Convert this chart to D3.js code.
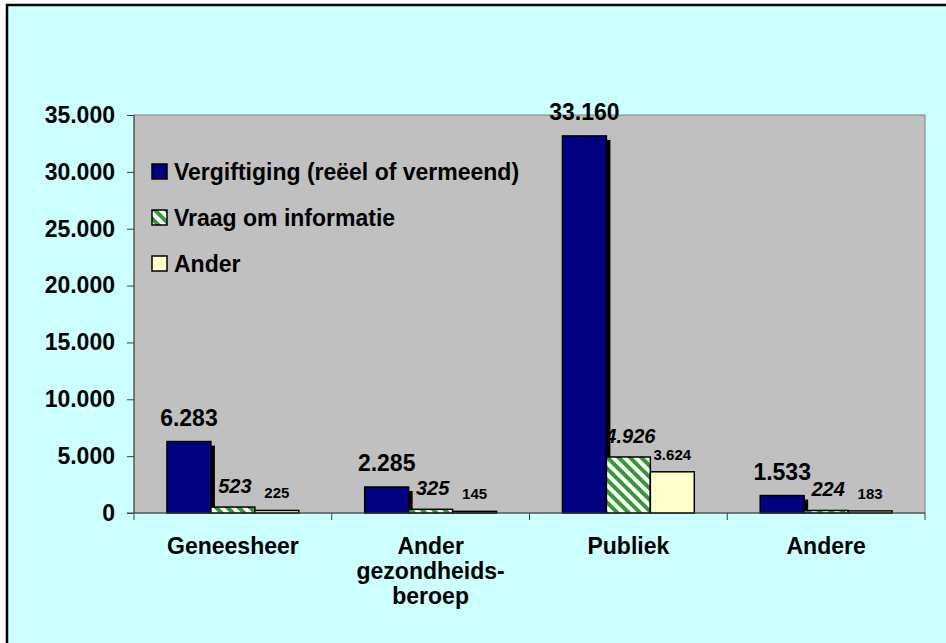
<!DOCTYPE html>
<html>
<head>
<meta charset="utf-8">
<script src="https://cdn.jsdelivr.net/npm/d3@7"></script>
<style>
  body { margin: 0; background: #fff; }
  text { font-family: "Liberation Sans", Arial, sans-serif; font-weight: bold; }
</style>
</head>
<body>
<svg id="chart"></svg>
<script>
// Data
let categories = ['Geneesheer', 'Ander gezondheids-beroep', 'Publiek', 'Andere'];
let categoryLines = [['Geneesheer'], ['Ander', 'gezondheids-', 'beroep'], ['Publiek'], ['Andere']];
let seriesNames = ['Vergiftiging (reëel of vermeend)', 'Vraag om informatie', 'Ander'];
let vergiftiging = [6283, 2285, 33160, 1533];
let vraag = [523, 325, 4926, 224];
let ander = [225, 145, 3624, 183];
let yTicks = [0, 5000, 10000, 15000, 20000, 25000, 30000, 35000];

let width = 946, height = 643;
let plotLeft = 134, plotRight = 925, plotTop = 115, plotBottom = 513;

let svg = d3.select('#chart').attr('width', width).attr('height', height);

// Dutch number format: 33.160
let nl = d3.formatLocale({ decimal: ',', thousands: '.', grouping: [3], currency: ['', ''] });
let fmt = nl.format(',d');

// hatch pattern for the second series
let defs = svg.append('defs');
let pat = defs.append('pattern')
    .attr('id', 'hatch')
    .attr('patternUnits', 'userSpaceOnUse')
    .attr('width', 8).attr('height', 8)
    .attr('patternTransform', 'rotate(-45)');
pat.append('rect').attr('width', 8).attr('height', 8).attr('fill', '#ffffff');
pat.append('rect').attr('width', 4).attr('height', 8).attr('fill', '#339933');

let fills = ['#000080', 'url(#hatch)', '#ffffcc'];

// background + outer frame
svg.append('rect')
    .attr('x', 7).attr('y', 5)
    .attr('width', 980).attr('height', 680)
    .attr('fill', '#ccffff')
    .attr('stroke', '#000').attr('stroke-width', 2.5);

// scales
let x0 = d3.scaleBand().domain(categories).range([plotLeft, plotRight]).paddingInner(0).paddingOuter(0);
let x1 = d3.scaleBand().domain([0, 1, 2]).range([0, x0.bandwidth()]).paddingOuter(0.75).paddingInner(0);
let y = d3.scaleLinear().domain([0, 35000]).range([plotBottom, plotTop]);

// plot area
svg.append('rect')
    .attr('x', plotLeft).attr('y', plotTop)
    .attr('width', plotRight - plotLeft).attr('height', plotBottom - plotTop)
    .attr('fill', '#c0c0c0')
    .attr('stroke', '#808080').attr('stroke-width', 1);

// build rows per category / series
let allSeries = [vergiftiging, vraag, ander];
let rows = [];
categories.forEach((c, i) => {
    allSeries.forEach((s, j) => rows.push({ cat: c, s: j, v: s[i] }));
});

let bars = svg.append('g');

// shadow only on the first series
bars.selectAll('rect.shadow')
    .data(rows.filter(d => d.s === 0))
    .enter().append('rect')
    .attr('class', 'shadow')
    .attr('x', d => x0(d.cat) + x1(d.s) + 4)
    .attr('y', d => y(d.v) + 4)
    .attr('width', x1.bandwidth())
    .attr('height', d => plotBottom - y(d.v) - 4)
    .attr('fill', '#000');

bars.selectAll('rect.bar')
    .data(rows)
    .enter().append('rect')
    .attr('class', 'bar')
    .attr('x', d => x0(d.cat) + x1(d.s))
    .attr('y', d => y(d.v))
    .attr('width', x1.bandwidth())
    .attr('height', d => plotBottom - y(d.v))
    .attr('fill', d => fills[d.s])
    .attr('stroke', '#000').attr('stroke-width', 1.5);

// value labels
let labelSize = [23, 20, 15];
let labelGap = [16, 14, 12];
svg.append('g').selectAll('text')
    .data(rows)
    .enter().append('text')
    .attr('x', d => x0(d.cat) + x1(d.s) + x1.bandwidth() / 2 + (d.s === 1 ? 2 : 0))
    .attr('y', d => y(d.v) - labelGap[d.s])
    .attr('text-anchor', 'middle')
    .style('font-size', d => labelSize[d.s] + 'px')
    .style('font-style', d => d.s === 1 ? 'italic' : 'normal')
    .attr('fill', '#000')
    .text(d => fmt(d.v));

// y axis
let yAxis = d3.axisLeft(y).tickValues(yTicks).tickSize(7).tickPadding(12).tickFormat(fmt);
let gy = svg.append('g').attr('transform', `translate(${plotLeft},0)`).call(yAxis);
gy.select('.domain').attr('stroke', '#404040').attr('d', `M0,${plotTop}V${plotBottom + 7}`);
gy.selectAll('.tick line').attr('stroke', '#404040');
gy.selectAll('.tick text')
    .style('font-size', '23px')
    .attr('fill', '#000');

// x axis: ticks at category boundaries
let xAxisG = svg.append('g');
xAxisG.append('line')
    .attr('x1', plotLeft - 7).attr('x2', plotRight)
    .attr('y1', plotBottom).attr('y2', plotBottom)
    .attr('stroke', '#404040');
xAxisG.selectAll('line.tk')
    .data(categories)
    .enter().append('line')
    .attr('class', 'tk')
    .attr('x1', d => x0(d) + x0.bandwidth()).attr('x2', d => x0(d) + x0.bandwidth())
    .attr('y1', plotBottom).attr('y2', plotBottom + 7)
    .attr('stroke', '#404040');

let catLabels = xAxisG.selectAll('text')
    .data(categories)
    .enter().append('text')
    .attr('text-anchor', 'middle')
    .style('font-size', '23px')
    .attr('fill', '#000')
    .attr('transform', d => `translate(${x0(d) + x0.bandwidth() / 2},554)`);
catLabels.each(function (d, i) {
    d3.select(this).selectAll('tspan')
        .data(categoryLines[i])
        .enter().append('tspan')
        .attr('x', 0)
        .attr('dy', (t, k) => k === 0 ? 0 : 25)
        .text(t => t);
});

// legend
let legend = svg.append('g').selectAll('g')
    .data(seriesNames)
    .enter().append('g')
    .attr('transform', (d, i) => `translate(152,${164 + i * 46})`);
legend.append('rect')
    .attr('width', 15).attr('height', 15)
    .attr('fill', (d, i) => fills[i])
    .attr('stroke', '#000').attr('stroke-width', 1.5);
legend.append('text')
    .attr('x', 22).attr('y', 16)
    .style('font-size', '23px')
    .attr('fill', '#000')
    .text(d => d);
</script>
</body>
</html>
